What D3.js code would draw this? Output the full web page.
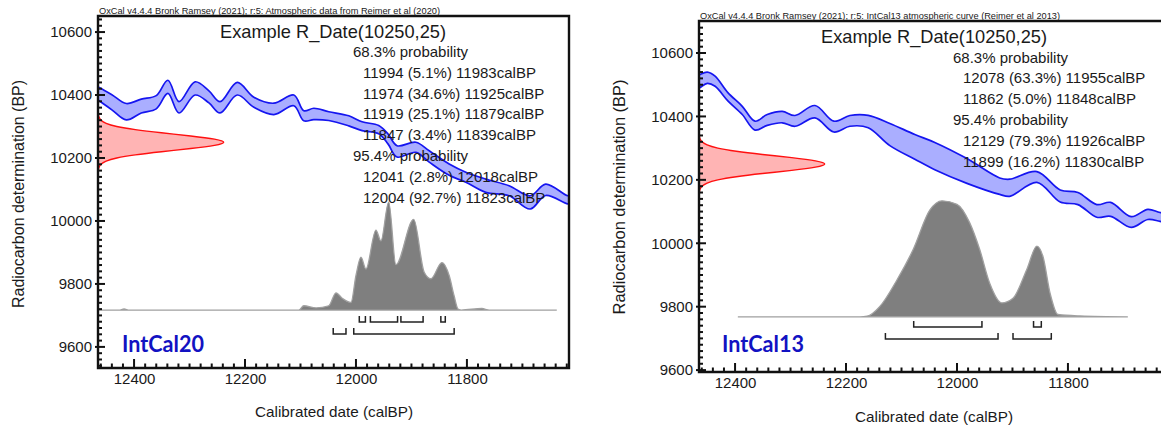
<!DOCTYPE html>
<html>
<head>
<meta charset="utf-8">
<script src="https://cdn.jsdelivr.net/npm/d3@7"></script>
<style>
  body { margin: 0; background: #fff; }
  text { font-family: "Liberation Sans", Arial, sans-serif; fill: #1a1a1a; }
</style>
</head>
<body>
<svg id="chart" width="1161" height="428"></svg>
<script>
// R_Date being calibrated
var rDateMean = 10250;
var rDateError = 25;
// measurement distribution, offsets from the mean (BP) and relative density
var rDateOffsets = [-100, -90, -80, -70, -60, -50, -40, -30, -20, -10, 0, 10, 20, 30, 40, 50, 60, 70, 80, 90, 100];
var rDateDensity = [0.0003, 0.0015, 0.006, 0.02, 0.056, 0.135, 0.278, 0.487, 0.726, 0.923, 1, 0.923, 0.726, 0.487, 0.278, 0.135, 0.056, 0.02, 0.006, 0.0015, 0.0003];

// IntCal20 curve (calBP, BP, 1 sigma)
var ic20Cal = [12468, 12463, 12440, 12414, 12387, 12360, 12339, 12319, 12290, 12265, 12245, 12214, 12184, 12148, 12112, 12094, 12076, 12049, 12013, 11989, 11959, 11942, 11926, 11892, 11868, 11832, 11802, 11766, 11724, 11686, 11658, 11618, 11608];
var ic20Bp = [10408, 10403, 10377, 10347, 10365, 10377, 10426, 10361, 10421, 10394, 10361, 10420, 10377, 10356, 10383, 10334, 10340, 10333, 10318, 10301, 10290, 10260, 10221, 10234, 10205, 10163, 10139, 10112, 10096, 10059, 10099, 10067, 10070];
var ic20Sigma = [20, 21, 24, 26, 22, 21, 21, 18, 21, 19, 18, 20, 16, 18, 17, 16, 18, 14, 16, 14, 13, 16, 18, 16, 18, 18, 16, 21, 16, 21, 18, 13, 13];

// IntCal20 calibrated probability
var ic20PostCal = [12465, 12427, 12418, 12409, 12103, 12094, 12072, 12049, 12036, 12025, 12009, 12000, 11991, 11982, 11964, 11955, 11941, 11928, 11896, 11877, 11865, 11845, 11832, 11823, 11816, 11810, 11773, 11760, 11638];
var ic20PostProb = [0, 0, 0.01, 0, 0, 0.04, 0.02, 0.04, 0.16, 0.11, 0.07, 0.32, 0.49, 0.38, 0.74, 0.64, 1.0, 0.42, 0.84, 0.35, 0.29, 0.44, 0.32, 0.13, 0.01, 0, 0.015, 0, 0];

var ic20Ranges68 = [[11994, 11983], [11974, 11925], [11919, 11879], [11847, 11839]];
var ic20Pct68 = [5.1, 34.6, 25.1, 3.4];
var ic20Ranges95 = [[12041, 12018], [12004, 11823]];
var ic20Pct95 = [2.8, 92.7];

// IntCal13 curve
var ic13Cal = [12470, 12463, 12450, 12436, 12413, 12387, 12364, 12342, 12315, 12292, 12256, 12222, 12193, 12160, 12121, 12076, 12040, 11982, 11923, 11905, 11856, 11814, 11782, 11748, 11723, 11686, 11656, 11634, 11600];
var ic13Bp = [10505, 10512, 10522, 10511, 10462, 10419, 10371, 10389, 10398, 10386, 10415, 10368, 10386, 10384, 10343, 10304, 10275, 10228, 10180, 10175, 10209, 10149, 10141, 10102, 10107, 10067, 10091, 10083, 10070];
var ic13Sigma = [20, 20.5, 18, 16, 13, 13, 14, 17, 18, 17, 19.5, 17, 17, 19.5, 35, 39, 43, 39, 26, 27, 17, 19, 19, 20, 22, 17, 16, 14, 15];

var ic13PostCal = [12395, 12175, 12162, 12139, 12108, 12079, 12049, 12027, 12000, 11977, 11959, 11941, 11919, 11899, 11874, 11856, 11845, 11832, 11818, 11778, 11692];
var ic13PostProb = [0, 0, 0.005, 0.09, 0.32, 0.58, 0.92, 1.0, 0.97, 0.81, 0.58, 0.29, 0.12, 0.16, 0.41, 0.61, 0.52, 0.2, 0.02, 0.008, 0];

var ic13Ranges68 = [[12078, 11955], [11862, 11848]];
var ic13Pct68 = [63.3, 5.0];
var ic13Ranges95 = [[12129, 11926], [11899, 11830]];
var ic13Pct95 = [79.3, 16.2];

var xTicks = [12400, 12200, 12000, 11800];
var yTicks = [9600, 9800, 10000, 10200, 10400, 10600];

var svg = d3.select('#chart');

function drawPanel(cfg) {
    var x = d3.scaleLinear().domain(cfg.calDomain).range([cfg.left, cfg.right]);
    var y = d3.scaleLinear().domain(cfg.bpDomain).range([cfg.top, cfg.bottom]);
    var g = svg.append('g');

    var clipId = 'clip-' + cfg.id;
    svg.append('defs').append('clipPath').attr('id', clipId)
        .append('rect')
        .attr('x', cfg.left).attr('y', cfg.top)
        .attr('width', cfg.right - cfg.left).attr('height', cfg.bottom - cfg.top);
    var plot = g.append('g').attr('clip-path', 'url(#' + clipId + ')');

    // calibration curve band (mean +/- 1 sigma)
    var curve = cfg.cal.map(function(c, i) {
        return { cal: c, lo: cfg.bp[i] - cfg.sigma[i], hi: cfg.bp[i] + cfg.sigma[i] };
    });
    var cr = d3.curveCatmullRom.alpha(0.5);
    plot.append('path').datum(curve)
        .attr('d', d3.area().curve(cr)
            .x(function(d) { return x(d.cal); })
            .y0(function(d) { return y(d.lo); })
            .y1(function(d) { return y(d.hi); }))
        .attr('fill', '#aaaeff');
    ['lo', 'hi'].forEach(function(k) {
        plot.append('path').datum(curve)
            .attr('d', d3.line().curve(cr)
                .x(function(d) { return x(d.cal); })
                .y(function(d) { return y(d[k]); }))
            .attr('fill', 'none')
            .attr('stroke', '#1515f0')
            .attr('stroke-width', 1.7);
    });

    // radiocarbon measurement
    var red = rDateOffsets.map(function(o, i) { return { bp: rDateMean + o, p: rDateDensity[i] }; });
    plot.append('path').datum(red)
        .attr('d', d3.area().curve(d3.curveBasis)
            .y(function(d) { return y(d.bp); })
            .x0(cfg.left)
            .x1(function(d) { return cfg.left + d.p * cfg.redWidth; }))
        .attr('fill', '#ffb4b4')
        .attr('stroke', '#ff1010')
        .attr('stroke-width', 1.4);

    // calibrated distribution
    var base = y(cfg.postBase);
    var post = cfg.postCal.map(function(c, i) { return { cal: c, p: cfg.postProb[i] }; });
    plot.append('path').datum(post)
        .attr('d', d3.area().curve(d3.curveMonotoneX)
            .x(function(d) { return x(d.cal); })
            .y0(base)
            .y1(function(d) { return base - d.p * cfg.postHeight; }))
        .attr('fill', '#7f7f7f')
        .attr('stroke', '#a0a0a0')
        .attr('stroke-width', 1.3);

    // range brackets
    [[cfg.ranges68, cfg.row68], [cfg.ranges95, cfg.row95]].forEach(function(r) {
        r[0].forEach(function(rng) {
            var a = x(rng[0]), b = x(rng[1]), yy = r[1];
            g.append('path')
                .attr('d', 'M' + a + ',' + (yy - 6) + 'L' + a + ',' + yy + 'L' + b + ',' + yy + 'L' + b + ',' + (yy - 6))
                .attr('fill', 'none')
                .attr('stroke', '#222')
                .attr('stroke-width', 1.5);
        });
    });

    // axes labels
    g.append('g').attr('transform', 'translate(0,' + cfg.bottom + ')')
        .call(d3.axisBottom(x).tickValues(xTicks).tickSize(0).tickPadding(5).tickFormat(d3.format('d')));
    g.append('g').attr('transform', 'translate(' + cfg.left + ',0)')
        .call(d3.axisLeft(y).tickValues(yTicks).tickSize(0).tickPadding(6).tickFormat(d3.format('d')));
    g.selectAll('.domain').remove();
    g.selectAll('.tick text').style('font-size', '15px').attr('fill', '#222')
        .style('font-family', '"Liberation Sans", Arial, sans-serif');

    // tick marks, minor every 20, major every 200
    var xAll = d3.range(12460, 11580, -20).filter(function(v) { return x(v) > cfg.left + 1 && x(v) < cfg.right - 1; });
    var yAll = d3.range(9540, 10720, 20).filter(function(v) { return y(v) > cfg.top + 1 && y(v) < cfg.bottom - 1; });
    var tk = g.append('g');
    xAll.forEach(function(d) {
        tk.append('path')
            .attr('d', 'M' + x(d) + ',' + (cfg.bottom + 1) + 'V' + (cfg.bottom - (d % 200 === 0 ? 9 : 4.5)))
            .attr('stroke', '#111').attr('stroke-width', 2).attr('fill', 'none');
    });
    yAll.forEach(function(d) {
        tk.append('path')
            .attr('d', 'M' + (cfg.left - (d % 200 === 0 ? 3 : 0)) + ',' + y(d) + 'H' + (cfg.left + (d % 200 === 0 ? 7 : 4)))
            .attr('stroke', '#111').attr('stroke-width', 2).attr('fill', 'none');
    });

    // frame
    var frame = 'M' + cfg.left + ',' + cfg.top + 'V' + cfg.bottom + 'H' + cfg.right + 'V' + cfg.top + 'Z';
    g.append('path').attr('d', frame).attr('fill', 'none').attr('stroke', '#111').attr('stroke-width', 2.4);

    // texts
    g.append('text').attr('x', cfg.left + 1).attr('y', cfg.top - 2)
        .attr('textLength', cfg.headWidth).attr('lengthAdjust', 'spacingAndGlyphs')
        .style('font-size', '9px').text(cfg.head);
    g.append('text').attr('x', cfg.titleX).attr('y', cfg.titleY)
        .attr('textLength', 226).attr('lengthAdjust', 'spacingAndGlyphs')
        .style('font-size', '18.5px').text('Example R_Date(' + rDateMean + ',' + rDateError + ')');

    var lines = [{ t: '68.3% probability', i: 0 }];
    cfg.ranges68.forEach(function(r, i) { lines.push({ t: r[0] + ' (' + cfg.pct68[i].toFixed(1) + '%) ' + r[1] + 'calBP', i: 1 }); });
    lines.push({ t: '95.4% probability', i: 0 });
    cfg.ranges95.forEach(function(r, i) { lines.push({ t: r[0] + ' (' + cfg.pct95[i].toFixed(1) + '%) ' + r[1] + 'calBP', i: 1 }); });
    lines.forEach(function(l, k) {
        g.append('text').attr('x', cfg.probX + l.i * 10).attr('y', cfg.probY + k * 20.8)
            .style('font-size', '15px').text(l.t);
    });

    g.append('text').attr('x', cfg.tagX).attr('y', 352)
        .attr('textLength', 82).attr('lengthAdjust', 'spacingAndGlyphs')
        .style('font-family', 'Lato, "Open Sans", sans-serif').style('font-weight', 'bold')
        .style('font-size', '22px').style('fill', '#1212c2').text(cfg.tag);

    g.append('text')
        .attr('transform', 'translate(' + cfg.yLabelX + ',' + cfg.yLabelY + ') rotate(-90)')
        .attr('text-anchor', 'middle').attr('dominant-baseline', 'central')
        .attr('textLength', cfg.yLabelLen).attr('lengthAdjust', 'spacingAndGlyphs')
        .style('font-size', '16px').text('Radiocarbon determination (BP)');
    g.append('text').attr('x', cfg.xLabelX).attr('y', cfg.xLabelY)
        .attr('text-anchor', 'middle')
        .attr('textLength', 158).attr('lengthAdjust', 'spacingAndGlyphs')
        .style('font-size', '15px').text('Calibrated date (calBP)');
}

drawPanel({
    id: 'ic20', left: 98, right: 569, top: 16, bottom: 368,
    calDomain: [12465, 11616], bpDomain: [10651, 9533],
    cal: ic20Cal, bp: ic20Bp, sigma: ic20Sigma,
    postCal: ic20PostCal, postProb: ic20PostProb, postBase: 9717, postHeight: 108,
    ranges68: ic20Ranges68, pct68: ic20Pct68, ranges95: ic20Ranges95, pct95: ic20Pct95,
    row68: 322, row95: 334, redWidth: 129,
    head: 'OxCal v4.4.4 Bronk Ramsey (2021); r:5: Atmospheric data from Reimer et al (2020)', headWidth: 341,
    titleX: 220, titleY: 38, probX: 353, probY: 57,
    tag: 'IntCal20', tagX: 122,
    yLabelX: 18, yLabelY: 194, yLabelLen: 228, xLabelX: 334, xLabelY: 417
});

drawPanel({
    id: 'ic13', left: 699, right: 1185, top: 21, bottom: 372,
    calDomain: [12465, 11589], bpDomain: [10701, 9594],
    cal: ic13Cal, bp: ic13Bp, sigma: ic13Sigma,
    postCal: ic13PostCal, postProb: ic13PostProb, postBase: 9768, postHeight: 116,
    ranges68: ic13Ranges68, pct68: ic13Pct68, ranges95: ic13Ranges95, pct95: ic13Pct95,
    row68: 327, row95: 339, redWidth: 129,
    head: 'OxCal v4.4.4 Bronk Ramsey (2021); r:5: IntCal13 atmospheric curve (Reimer et al 2013)', headWidth: 360,
    titleX: 821, titleY: 43, probX: 953, probY: 62.5,
    tag: 'IntCal13', tagX: 722,
    yLabelX: 619, yLabelY: 197, yLabelLen: 235, xLabelX: 934, xLabelY: 422
});
</script>
</body>
</html>
